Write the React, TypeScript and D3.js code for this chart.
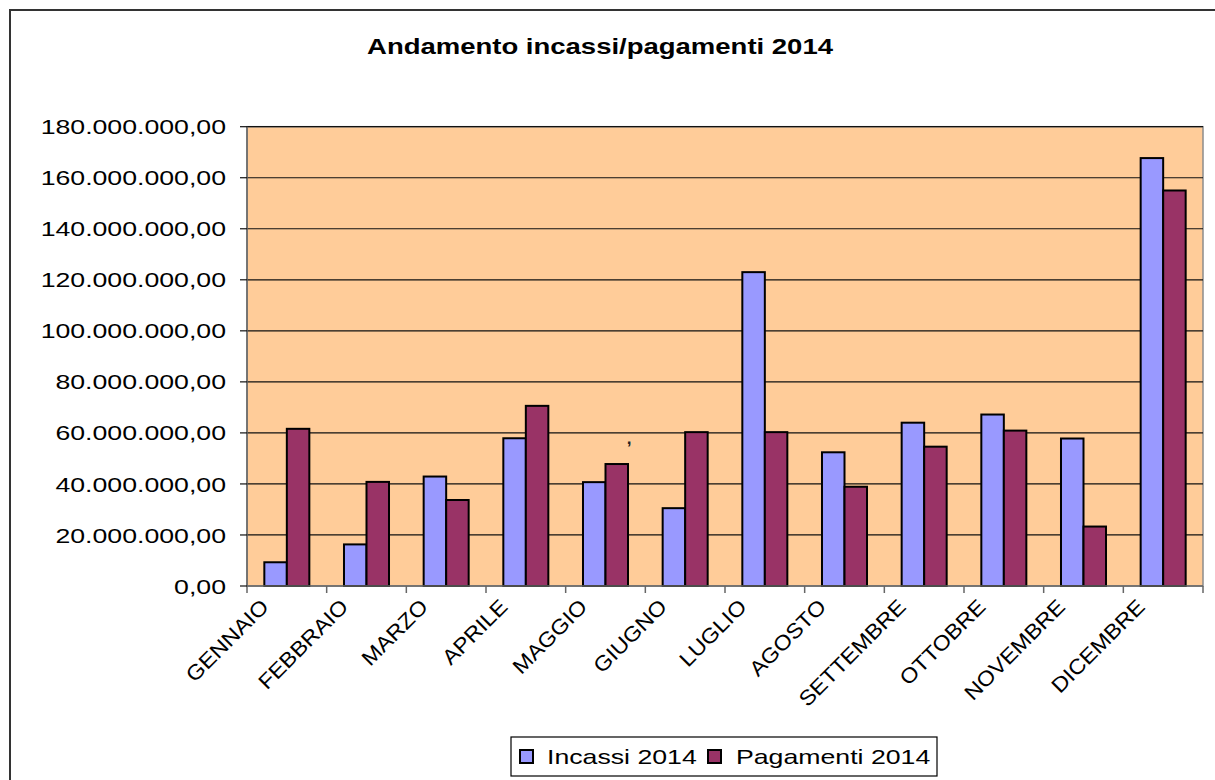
import React from "react";
import * as d3 from "d3";

const months = ["GENNAIO","FEBBRAIO","MARZO","APRILE","MAGGIO","GIUGNO","LUGLIO","AGOSTO","SETTEMBRE","OTTOBRE","NOVEMBRE","DICEMBRE"];
const incassi = [9.3, 16.3, 42.9, 57.9, 40.7, 30.5, 123.0, 52.4, 64.0, 67.2, 57.8, 167.7].map(v => v * 1e6);
const pagamenti = [61.6, 40.8, 33.7, 70.6, 47.8, 60.3, 60.3, 38.9, 54.6, 60.9, 23.3, 155.0].map(v => v * 1e6);
const seriesNames = ["Incassi 2014", "Pagamenti 2014"];
const seriesColors = ["#9999FF", "#993366"];
const yTicks = [0, 20e6, 40e6, 60e6, 80e6, 100e6, 120e6, 140e6, 160e6, 180e6];
const title = "Andamento incassi/pagamenti 2014";

const fmt = (v: number) => {
  const int = Math.round(v).toString().replace(/\B(?=(\d{3})+(?!\d))/g, ".");
  return int + ",00";
};

export default function App() {
  const W = 1215, H = 780;
  const left = 247, right = 1203, top = 126.7, bottom = 586;
  const x = d3.scaleBand<string>().domain(months).range([left, right]).paddingInner(0).paddingOuter(0);
  const y = d3.scaleLinear().domain([0, 180e6]).range([bottom, top]);
  const bw = x.bandwidth();
  const barW = bw / 3.54;
  const inner = d3.scaleBand<number>().domain([0, 1]).range([(bw - 2 * barW) / 2, (bw + 2 * barW) / 2]);
  const data = [incassi, pagamenti];
  const font = "'Liberation Sans', Arial, sans-serif";
  const sx = 1.27;

  return (
    <svg width={W} height={H} style={{ position: "absolute", left: 0, top: 0, background: "#fff" }} fontFamily={font}>
      <rect x={10} y={10} width={1300} height={900} fill="#fff" stroke="#333" strokeWidth={2} />
      <text transform={`translate(600,54) scale(1.25,1)`} textAnchor="middle" fontSize={22} fontWeight="bold">{title}</text>
      <rect x={left} y={top} width={right - left} height={bottom - top} fill="#FFCC99" stroke="#8c8c8c" strokeWidth={1.5} />
      {yTicks.slice(1).map(t => (
        <line key={t} x1={left} x2={right} y1={y(t)} y2={y(t)} stroke="#111" strokeWidth={1.2} />
      ))}
      {months.map((m, i) => (
        <g key={m}>
          {data.map((s, k) => (
            <rect key={k} x={x(m)! + inner(k)!} y={y(s[i])} width={barW} height={bottom - y(s[i])}
              fill={seriesColors[k]} stroke="#000" strokeWidth={2} />
          ))}
        </g>
      ))}
      <line x1={left} x2={left} y1={top} y2={bottom + 7} stroke="#666" strokeWidth={1.5} />
      <line x1={left} x2={right} y1={bottom} y2={bottom} stroke="#666" strokeWidth={1.5} />
      {yTicks.map(t => (
        <g key={t}>
          <line x1={left - 7} x2={left} y1={y(t)} y2={y(t)} stroke="#111" strokeWidth={1.2} />
          <text transform={`translate(226,${y(t)}) scale(${sx},1)`} textAnchor="end" dy="0.36em" fontSize={21}>{fmt(t)}</text>
        </g>
      ))}
      {months.map((m, i) => (
        <line key={m} x1={x(m)! + bw} x2={x(m)! + bw} y1={bottom} y2={bottom + 7} stroke="#666" strokeWidth={1.5} />
      ))}
      {months.map(m => (
        <text key={m} transform={`translate(${x(m)! + bw / 2 - 17},608) rotate(-45) scale(1.1,1)`} textAnchor="end" fontSize={21}>{m}</text>
      ))}
      <text x={629} y={444} fontSize={17} fontWeight="bold" fill="#222" textAnchor="middle">,</text>
      <rect x={511} y={737} width={426} height={39} fill="#fff" stroke="#000" strokeWidth={1.2} />
      {seriesNames.map((n, k) => {
        const sxp = k === 0 ? 520 : 708;
        const tx = k === 0 ? 547 : 736;
        return (
          <g key={n}>
            <rect x={sxp} y={750} width={13} height={13} fill={seriesColors[k]} stroke="#000" strokeWidth={2} />
            <text transform={`translate(${tx},764) scale(${sx},1)`} fontSize={21}>{n}</text>
          </g>
        );
      })}
    </svg>
  );
}
